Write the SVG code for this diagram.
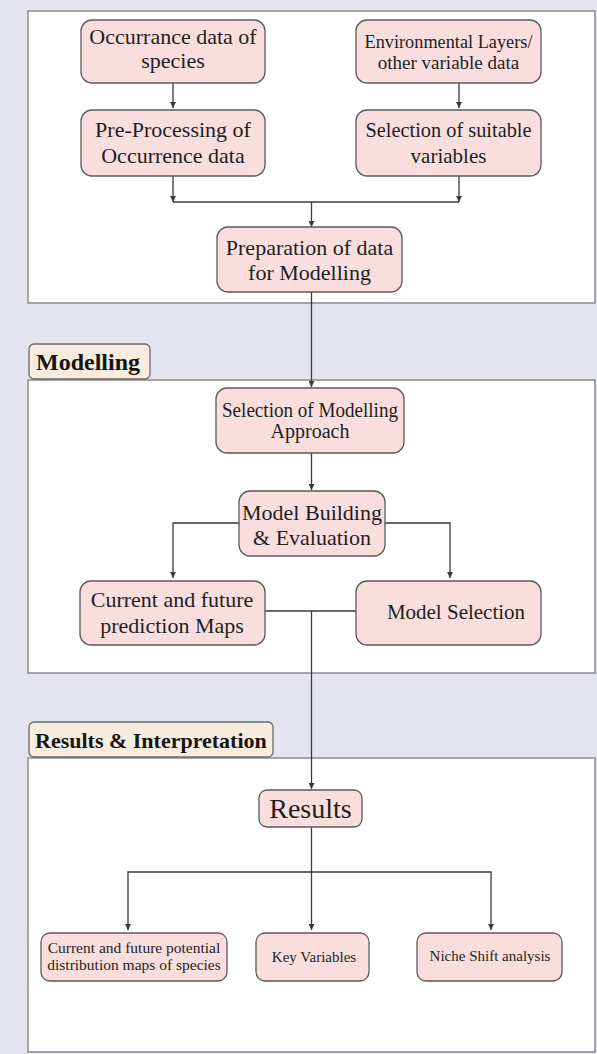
<svg xmlns="http://www.w3.org/2000/svg" width="597" height="1054" viewBox="0 0 597 1054">
<defs>
<marker id="ah" viewBox="0 0 10 10" refX="10" refY="5" markerWidth="6" markerHeight="6" markerUnits="userSpaceOnUse" orient="auto">
<path d="M0,0 L10,5 L0,10 z" fill="#3a3a3a"/>
</marker>
<style>
.panel{fill:#ffffff;stroke:#8a8a8e;stroke-width:1.5}
.box{fill:#f9dedd;stroke:#5a5a5a;stroke-width:1.3}
.lbl{fill:#f8ecde;stroke:#6a6a6a;stroke-width:1.3}
.t{font-family:"Liberation Serif","Times New Roman",serif;fill:#1e1e1e;text-anchor:middle}
.h{font-family:"Liberation Serif","Times New Roman",serif;font-weight:bold;fill:#151515}
.c{fill:none;stroke:#3a3a3a;stroke-width:1.3}
</style>
</defs>
<rect x="0" y="0" width="597" height="1054" fill="#e4e4f1"/>
<g id="panels">
<rect class="panel" x="28" y="11" width="567" height="292"/>
<rect class="panel" x="28" y="380" width="567" height="293"/>
<rect class="panel" x="28" y="758" width="567" height="294"/>
</g>
<g id="label-modelling">
<rect class="lbl" x="29" y="344" width="121" height="35" rx="5"/>
<text class="h" x="36" y="370" font-size="24">Modelling</text>
</g>
<g id="label-results">
<rect class="lbl" x="29" y="722" width="244" height="35" rx="5"/>
<text class="h" x="35" y="748" font-size="22">Results &amp; Interpretation</text>
</g>
<g id="connectors">
<line class="c" x1="173" y1="83" x2="173" y2="108" marker-end="url(#ah)"/>
<line class="c" x1="459" y1="83" x2="459" y2="108" marker-end="url(#ah)"/>
<line class="c" x1="173" y1="176" x2="173" y2="202" marker-end="url(#ah)"/>
<line class="c" x1="459" y1="176" x2="459" y2="202" marker-end="url(#ah)"/>
<line class="c" x1="173" y1="202" x2="459" y2="202"/>
<line class="c" x1="311.5" y1="202" x2="311.5" y2="227" marker-end="url(#ah)"/>
<line class="c" x1="311.5" y1="292" x2="311.5" y2="387" marker-end="url(#ah)"/>
<line class="c" x1="311.5" y1="453" x2="311.5" y2="490" marker-end="url(#ah)"/>
<polyline class="c" points="239,523 173,523 173,578" marker-end="url(#ah)"/>
<polyline class="c" points="385,523 450,523 450,578" marker-end="url(#ah)"/>
<line class="c" x1="265" y1="611" x2="356" y2="611"/>
<line class="c" x1="311.5" y1="611" x2="311.5" y2="789" marker-end="url(#ah)"/>
<line class="c" x1="311.5" y1="827" x2="311.5" y2="930" marker-end="url(#ah)"/>
<polyline class="c" points="311.5,872 128,872 128,930" marker-end="url(#ah)"/>
<polyline class="c" points="311.5,872 491,872 491,930" marker-end="url(#ah)"/>
</g>
<g id="n-occurrance">
<rect class="box" x="81" y="20" width="184" height="63" rx="11"/>
<text class="t" x="173" y="44" font-size="22">Occurrance data of</text>
<text class="t" x="173" y="68" font-size="22">species</text>
</g>
<g id="n-environmental">
<rect class="box" x="356" y="20" width="185" height="63" rx="11"/>
<text class="t" x="448.5" y="48" font-size="19" textLength="168" lengthAdjust="spacingAndGlyphs">Environmental Layers/</text>
<text class="t" x="448.5" y="69" font-size="19">other variable data</text>
</g>
<g id="n-preprocessing">
<rect class="box" x="81" y="110" width="184" height="66" rx="11"/>
<text class="t" x="173" y="137" font-size="22">Pre-Processing of</text>
<text class="t" x="173" y="163" font-size="22">Occurrence data</text>
</g>
<g id="n-selection-variables">
<rect class="box" x="356" y="110" width="185" height="66" rx="11"/>
<text class="t" x="448.5" y="137" font-size="21" textLength="166" lengthAdjust="spacingAndGlyphs">Selection of suitable</text>
<text class="t" x="448.5" y="163" font-size="21">variables</text>
</g>
<g id="n-preparation">
<rect class="box" x="217" y="227" width="185" height="65" rx="11"/>
<text class="t" x="309.5" y="255" font-size="22">Preparation of data</text>
<text class="t" x="309.5" y="280" font-size="22">for Modelling</text>
</g>
<g id="n-selection-approach">
<rect class="box" x="216" y="388" width="188" height="65" rx="11"/>
<text class="t" x="310" y="417" font-size="20" textLength="176" lengthAdjust="spacingAndGlyphs">Selection of Modelling</text>
<text class="t" x="310" y="438" font-size="20">Approach</text>
</g>
<g id="n-model-building">
<rect class="box" x="239" y="491" width="146" height="65" rx="11"/>
<text class="t" x="312" y="520" font-size="22">Model Building</text>
<text class="t" x="312" y="545" font-size="22">&amp; Evaluation</text>
</g>
<g id="n-prediction-maps">
<rect class="box" x="80" y="581" width="185" height="64" rx="11"/>
<text class="t" x="172" y="607" font-size="22">Current and future</text>
<text class="t" x="172" y="633" font-size="22">prediction Maps</text>
</g>
<g id="n-model-selection">
<rect class="box" x="356" y="581" width="185" height="64" rx="11"/>
<text class="t" x="456" y="619" font-size="21">Model Selection</text>
</g>
<g id="n-results">
<rect class="box" x="259" y="790" width="103" height="37" rx="8"/>
<text class="t" x="310.5" y="818" font-size="28">Results</text>
</g>
<g id="n-distribution-maps">
<rect class="box" x="41" y="933" width="186" height="48" rx="9"/>
<text class="t" x="134" y="953" font-size="15.5">Current and future potential</text>
<text class="t" x="134" y="970" font-size="15.5">distribution maps of species</text>
</g>
<g id="n-key-variables">
<rect class="box" x="256" y="933" width="113" height="48" rx="9"/>
<text class="t" x="314" y="962" font-size="15">Key Variables</text>
</g>
<g id="n-niche-shift">
<rect class="box" x="417" y="933" width="145" height="48" rx="9"/>
<text class="t" x="490" y="961" font-size="15">Niche Shift analysis</text>
</g>
</svg>
